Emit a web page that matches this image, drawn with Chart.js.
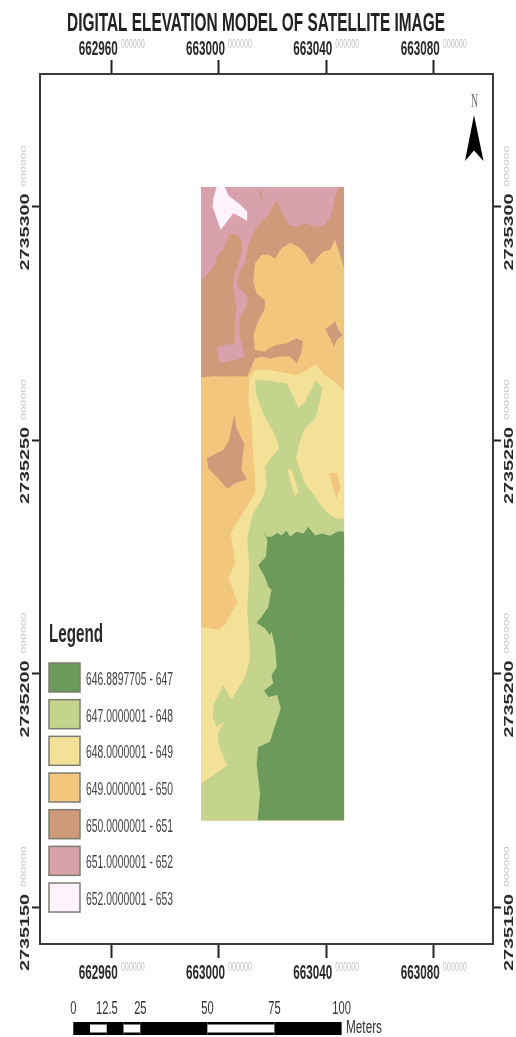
<!DOCTYPE html>
<html>
<head>
<meta charset="utf-8">
<title>Digital elevation model</title>
<script src="https://cdn.jsdelivr.net/npm/chart.js@4"></script>
<style>
    html, body { margin: 0; padding: 0; background: #fff; }
    canvas { display: block; filter: blur(0.5px); }
</style>
</head>
<body>
<canvas id="demChart" width="516" height="1037"></canvas>
<script>
const titleText = 'DIGITAL ELEVATION MODEL OF SATELLITE IMAGE';
const xTicks = [662960, 663000, 663040, 663080];
const yTicks = [2735150, 2735200, 2735250, 2735300];
const tickSuffix = '000000';
const bandLabels = ['646.8897705 - 647', '647.0000001 - 648', '648.0000001 - 649', '649.0000001 - 650',
    '650.0000001 - 651', '651.0000001 - 652', '652.0000001 - 653'];
const bandColors = ['#6b9a5a', '#c5d48c', '#f2e196', '#f2c67c', '#cf9a7a', '#d8a1ab', '#fdf3fd'];
const scaleBarStops = [0, 12.5, 25, 50, 75, 100];
const scaleBarCuts = [0, 6.25, 12.5, 18.75, 25, 50, 75, 100];

// Outlines, metres east of 663000 / north of 2735000
const eastBase = 663000;
const northBase = 2735000;
const areaFull = [[-6.7,304.2],[46.6,304.2],[46.6,168.6],[-6.7,168.6]];
const areaBelow651 = [[-6.7,284.1],[-3.4,286.1],[-1.5,287.5],[-0.6,289.6],[1.6,290.7],[3.1,293.2],[4.7,294.3],[7.8,293.6],
    [8.8,290.7],[10.5,290.7],[11.5,292.9],[14.6,296.1],[17.1,297.5],[19,298.9],[21.5,301.6],[23.3,298.9],[25.8,296.1],
    [28.9,295.7],[32,296.4],[36.4,295.7],[39.5,296.1],[41.4,297.5],[43.2,301.8],[44.7,304.2],[46.6,304.2],[46.6,168.6],[-6.7,168.6]];
const pinkStrip = [[8.8,290.9],[10.5,290.7],[9.7,288.2],[7.2,285.4],[6.6,283.6],[7.8,282.2],[10.9,280.7],[10.3,278.9],[8.1,276.8],
    [7.6,274.7],[7.8,271.8],[9.7,267.9],[6.6,267.2],[2.8,266.8],[0.4,266.4],[-0.9,269.7],[2.8,270.5],[5.9,270.4],[5.9,275.4],
    [6.6,278.2],[5.3,282.5],[5.9,285.4],[7.8,288.9]];
const brownMark = [[14.6,303.6],[15.5,303.2],[16.5,301.4],[15.5,301.8]];
const whitePatch = [[-0.9,304.2],[2.2,304.2],[3.5,302.4],[7.8,300.5],[10.5,298.9],[10.5,296.9],[7.8,297.9],[5.3,298.6],[3.5,297.2],
    [0.6,295],[-0.9,297.5],[-2.4,300],[-2.1,301.8]];
const areaBelow650 = [[46.6,286.8],[44.7,290.4],[43.2,292.9],[41.4,290.7],[38.9,290.4],[37,289.3],[34.5,287.5],[32,290],[29.6,291.4],
    [26.5,292.2],[23.3,291.1],[20.9,288.9],[18.4,289.7],[15.9,289.7],[13.4,287.9],[12.8,283.9],[14,281.4],[17.1,280],[17.1,278.2],
    [14.6,275.4],[12.8,272.5],[13.4,269.3],[17.1,268.9],[18.4,269.6],[21.5,270.4],[25.2,270.7],[28.9,271.8],[31.2,271.1],[30.8,268.9],
    [28.9,266.4],[26.5,267.9],[22.7,267.9],[19,267.5],[15.9,267.9],[13.4,267.5],[10.5,263.6],[7.8,263.7],[2.8,263.6],[-2.1,263.7],
    [-6.7,263.4],[-6.7,168.6],[46.6,168.6]];
const brownRight = [[39.5,273.8],[42,274.7],[43.2,275.5],[44.5,273.6],[46.1,272.5],[43.8,271.4],[42.9,270],[41.4,271.8]];
const brownLeft = [[5.7,255.4],[6.6,252.5],[9.4,249.3],[8.8,246.4],[8.4,243.6],[10.3,241.6],[5.9,240.7],[3.1,239.6],[-0.3,241.8],
    [-4,243.9],[-4.6,246.1],[-2.1,246.8],[1.6,247.9],[3.8,250],[4.7,252.9]];
const areaBelow649 = [[46.6,260.4],[43.8,262.1],[39.5,263.9],[35.8,266.3],[32.7,265],[29,263.9],[25.2,264.3],[19,265],[13.4,265.1],
    [11.5,263.6],[10.9,258.6],[12.2,253.6],[12.8,245.7],[13.4,242.5],[13.4,238.6],[10.3,235.7],[7.2,232.9],[4.3,230],[5.3,226.4],
    [6,223.6],[3.5,220.4],[5.3,217.9],[6.9,215.2],[4.7,213.2],[2.2,210.4],[-0.3,209.4],[-6.7,210],[-6.7,168.6],[46.6,168.6]];
const orangePatch = [[41.1,242.9],[43.8,243],[45.3,240],[43.8,237.5],[42.6,239.6]];
const areaBelow648 = [[46.6,233.2],[43.8,233.2],[40.1,234.6],[37,236.8],[33.9,239.3],[32,240.7],[30.2,243.6],[28.7,246.1],[30.2,250],
    [32,252.5],[35.8,254.6],[38,259.3],[38.3,261.4],[36.1,262.9],[34.5,261.1],[32,258.2],[29.6,256.8],[27.1,260],[25.2,262.1],[19,262.7],
    [13.4,262.9],[14,259.3],[17.1,255],[20.9,251.1],[22.5,248.2],[20.2,246.8],[17.1,244.3],[17.8,240.7],[16.5,237.9],[12.2,233.6],
    [10.5,228.6],[11.3,222.9],[10.9,217.2],[10.5,213.6],[11.3,207.2],[11.5,202.9],[9.7,199.3],[4.7,194.4],[1.6,197.5],[-1.9,193.6],
    [-2.4,190.7],[-0.9,188.7],[2.2,189.7],[-0.3,187.5],[-0.3,185],[3.1,180.4],[-6.7,176.4],[-6.7,168.6],[46.6,168.6]];
const yellowSliver = [[25.5,244.1],[27.1,243.6],[29.6,238.9],[28.3,238],[26.5,241.4]];
const areaBelow647 = [[46.6,230.4],[44.5,230.5],[41.4,229.5],[38.3,230],[35.8,229.6],[33.3,231.4],[31.4,230],[28.9,230.4],[26.5,229.3],
    [25.2,230.6],[23.3,229.6],[21.7,230.1],[19.6,229.3],[17.8,229.3],[16.3,231.1],[18,228.6],[17.5,225],[14.6,223.2],[17.1,220.7],
    [18.4,218.6],[19.6,217.9],[19,216.4],[18.4,214.3],[15.9,212.2],[14,210.9],[17.1,209.7],[19,208.2],[19.6,209],[20.9,205.7],[21.5,201.4],
    [19.6,199.7],[20.2,197.9],[16.8,196.4],[18.4,195],[21.7,195.4],[23,192.5],[20.9,188.9],[19,185.4],[14.6,184.3],[14,180.7],[15.3,174.3],
    [14.4,168.6],[46.6,168.6]];

// Paint order, bottom first: [outline, index into bandColors]
const layers = [
    [areaFull, 5], [areaBelow651, 4], [pinkStrip, 5], [brownMark, 4], [whitePatch, 6],
    [areaBelow650, 3], [brownRight, 4], [brownLeft, 4],
    [areaBelow649, 2], [orangePatch, 3],
    [areaBelow648, 1], [yellowSliver, 2],
    [areaBelow647, 0]
];

function toPoints(outline) {
    const pts = outline.map(p => ({ x: eastBase + p[0], y: northBase + p[1] }));
    pts.push(pts[0]);
    return pts;
}

// The source map is stretched, so text gets squeezed to the width it has there
function fitText(ctx, text, x, y, font, color, length, angle) {
    ctx.save();
    ctx.font = font;
    ctx.fillStyle = color;
    ctx.textAlign = 'left';
    ctx.textBaseline = 'alphabetic';
    ctx.translate(x, y);
    if (angle) ctx.rotate(angle);
    ctx.scale(length / ctx.measureText(text).width, 1);
    ctx.fillText(text, 0, 0);
    ctx.restore();
}

const sans = '"Liberation Sans", Arial, sans-serif';
const mapDecor = {
    id: 'mapDecor',
    afterDraw(chart) {
        const ctx = chart.ctx;
        const sx = chart.scales.x;
        const sy = chart.scales.y;

        fitText(ctx, titleText, 67, 31, 'bold 26px ' + sans, '#222', 378);

        // tick labels, each with its pale suffix
        xTicks.forEach(v => {
            const px = sx.getPixelForValue(v);
            [[55, 48], [979, 971]].forEach(([mainY, sufY]) => {
                fitText(ctx, String(v), px - 33, mainY, 'bold 20px ' + sans, '#2a2a2a', 39);
                fitText(ctx, tickSuffix, px + 9, sufY, '12px ' + sans, '#c4c4c4', 24);
            });
        });
        yTicks.forEach(v => {
            const py = sy.getPixelForValue(v);
            [[29, 25.5], [513, 508.5]].forEach(([mainX, sufX]) => {
                fitText(ctx, String(v), mainX, py + 64, 'bold 13.5px ' + sans, '#2a2a2a', 77, -Math.PI / 2);
                fitText(ctx, tickSuffix, sufX, py - 20, '8px ' + sans, '#c4c4c4', 41, -Math.PI / 2);
            });
        });

        // legend
        fitText(ctx, 'Legend', 49, 642, 'bold 25px ' + sans, '#2a2a2a', 54);
        bandLabels.forEach((label, i) => {
            const top = 663 + i * 36.67;
            ctx.fillStyle = bandColors[i];
            ctx.strokeStyle = '#7c7c70';
            ctx.lineWidth = 1.5;
            ctx.fillRect(49, top, 31, 29);
            ctx.strokeRect(49, top, 31, 29);
            fitText(ctx, label, 86, top + 22, '18px ' + sans, '#444', 87);
        });

        // scale bar, in metres along the x scale
        const barStart = 662945.7;
        const barPx = m => sx.getPixelForValue(barStart + m);
        scaleBarCuts.slice(1).forEach((m, i) => {
            const a = barPx(scaleBarCuts[i]);
            ctx.fillStyle = '#000';
            ctx.fillRect(a, 1022, barPx(m) - a, 13);
            if (i % 2 === 1) {
                ctx.fillStyle = '#fff';
                ctx.fillRect(a, 1024.5, barPx(m) - a, 8);
            }
        });
        scaleBarStops.forEach(m => {
            const text = String(m);
            const w = text.length * 6.2 - (text.includes('.') ? 3 : 0);
            fitText(ctx, text, barPx(m) - w / 2, 1014, '18px ' + sans, '#333', w);
        });
        fitText(ctx, 'Meters', 346, 1033, '18px ' + sans, '#333', 36);

        // north arrow
        fitText(ctx, 'N', 471, 107, '18px "Liberation Serif", serif', '#666', 7);
        ctx.fillStyle = '#000';
        ctx.beginPath();
        ctx.moveTo(474, 115);
        ctx.lineTo(483.5, 161);
        ctx.lineTo(474, 150.5);
        ctx.lineTo(465, 161);
        ctx.closePath();
        ctx.fill();
    }
};

function axisOptions(position, min, max, tickValues, tickLength, size) {
    return {
        type: 'linear',
        position: position,
        min: min,
        max: max,
        afterBuildTicks: scale => { scale.ticks = tickValues.map(v => ({ value: v })); },
        afterFit: scale => {
            if (scale.isHorizontal()) scale.height = size; else scale.width = size;
        },
        ticks: { display: false },
        border: { display: true, color: '#3a3a3a', width: 2 },
        grid: { drawOnChartArea: false, drawTicks: true, tickLength: tickLength, tickWidth: 2, tickColor: '#222' }
    };
}

const xMin = 662933.3, xMax = 663102.1, yMin = 2735142.1, yMax = 2735328.4;

new Chart(document.getElementById('demChart').getContext('2d'), {
    type: 'scatter',
    data: {
        datasets: layers.map((layer, i) => ({
            data: toPoints(layer[0]),
            showLine: true,
            fill: 'shape',
            backgroundColor: bandColors[layer[1]],
            borderColor: bandColors[layer[1]],
            borderWidth: 0,
            pointRadius: 0,
            order: layers.length - i
        }))
    },
    plugins: [mapDecor],
    options: {
        responsive: false,
        animation: false,
        devicePixelRatio: 1,
        layout: { padding: 0 },
        plugins: {
            legend: { display: false },
            title: { display: false },
            tooltip: { enabled: false }
        },
        scales: {
            x: axisOptions('bottom', xMin, xMax, xTicks, 14, 93),
            xTop: axisOptions('top', xMin, xMax, xTicks, 14, 74),
            y: axisOptions('left', yMin, yMax, yTicks, 8, 40),
            yRight: axisOptions('right', yMin, yMax, yTicks, 8, 23)
        }
    }
});
</script>
</body>
</html>
